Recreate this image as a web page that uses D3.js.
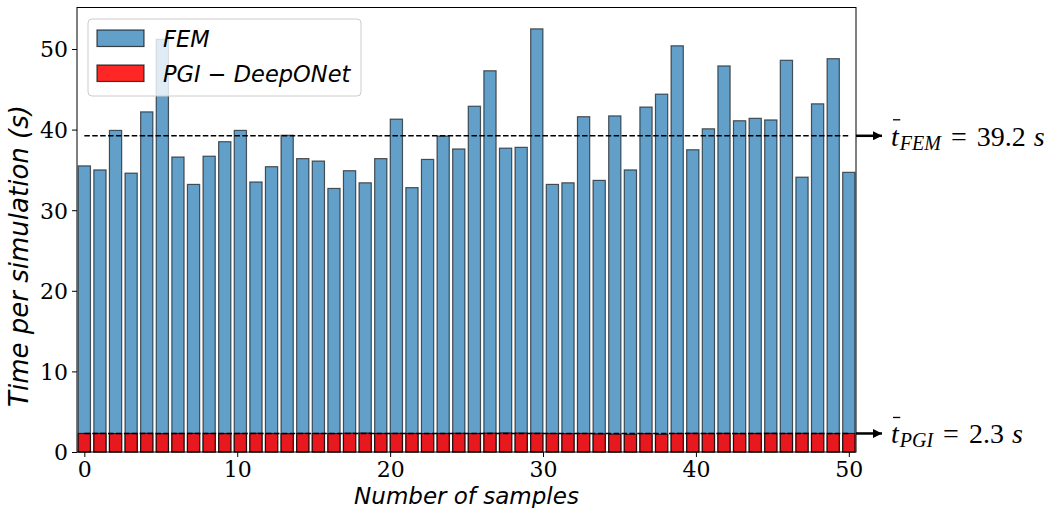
<!DOCTYPE html>
<html>
<head>
<meta charset="utf-8">
<script src="https://cdn.jsdelivr.net/npm/d3@7"></script>
<style>
  body { margin: 0; background: #fff; }
  svg { display: block; }
</style>
</head>
<body>
<div id="chart"></div>
<script>
// FEM run time for each of the 50 test samples (s)
const femTimes = [
  35.5, 35.0, 39.9, 34.6, 42.2, 51.2, 36.6, 33.2, 36.7, 38.5,
  39.9, 33.5, 35.4, 39.3, 36.4, 36.1, 32.7, 34.9, 33.4, 36.4,
  41.3, 32.8, 36.3, 39.2, 37.6, 42.9, 47.3, 37.7, 37.8, 52.5,
  33.2, 33.4, 41.6, 33.7, 41.7, 35.0, 42.8, 44.4, 50.4, 37.5,
  40.1, 47.9, 41.1, 41.4, 41.2, 48.6, 34.1, 43.2, 48.8, 34.7
];
// PGI-DeepONet inference time for the same samples (s)
const pgiTimes = [
  2.30, 2.31, 2.29, 2.30, 2.32, 2.28, 2.30, 2.31, 2.30, 2.29,
  2.30, 2.32, 2.30, 2.28, 2.31, 2.30, 2.29, 2.33, 2.35, 2.30,
  2.31, 2.30, 2.29, 2.30, 2.32, 2.30, 2.34, 2.36, 2.35, 2.33,
  2.30, 2.28, 2.30, 2.25, 2.22, 2.20, 2.28, 2.20, 2.30, 2.32,
  2.30, 2.31, 2.29, 2.30, 2.32, 2.30, 2.31, 2.30, 2.29, 2.30
];
const xTicks = [0, 10, 20, 30, 40, 50];
const yTicks = [0, 10, 20, 30, 40, 50];
const seriesNames = ['FEM', 'PGI \u2212 DeepONet'];
const meanSubs = ['FEM', 'PGI'];

const width = 1062, height = 508;
const margin = { top: 7.5, right: 206, bottom: 56, left: 77 };

// samples are laid out like np.linspace(0, 50, 50)
const nSamples = femTimes.length;
const samplePos = d3.range(nSamples).map(i => i * 50 / (nSamples - 1));

const x = d3.scaleLinear().domain([-0.48, 50.47]).range([margin.left, width - margin.right]);
const y = d3.scaleLinear().domain([0, 55.15]).range([height - margin.bottom, margin.top]);
const barW = x(0.8) - x(0);

const svg = d3.select('#chart').append('svg')
  .attr('width', width)
  .attr('height', height);

const plot = svg.append('g');

// FEM bars
plot.selectAll('.fem')
  .data(femTimes)
  .join('rect')
  .attr('class', 'fem')
  .attr('x', (d, i) => x(samplePos[i]) - barW / 2)
  .attr('width', barW)
  .attr('y', d => y(d))
  .attr('height', d => y(0) - y(d))
  .attr('fill', '#1f77b4')
  .attr('fill-opacity', 0.7)
  .attr('stroke', '#000')
  .attr('stroke-opacity', 0.62)
  .attr('stroke-width', 1.2);

// PGI bars drawn over them
plot.selectAll('.pgi')
  .data(pgiTimes)
  .join('rect')
  .attr('class', 'pgi')
  .attr('x', (d, i) => x(samplePos[i]) - barW / 2)
  .attr('width', barW)
  .attr('y', d => y(d))
  .attr('height', d => y(0) - y(d))
  .attr('fill', '#ff0000')
  .attr('fill-opacity', 0.85)
  .attr('stroke', '#000')
  .attr('stroke-opacity', 0.75)
  .attr('stroke-width', 1.2);

// mean lines
const means = [d3.mean(femTimes), d3.mean(pgiTimes)];
plot.selectAll('.mean-line')
  .data(means)
  .join('line')
  .attr('class', 'mean-line')
  .attr('x1', x(0))
  .attr('x2', x(50))
  .attr('y1', d => y(d))
  .attr('y2', d => y(d))
  .attr('stroke', '#000')
  .attr('stroke-width', 1.5)
  .attr('stroke-dasharray', '5.5,2.4');

// axes
const xAxis = svg.append('g')
  .attr('transform', `translate(0,${y(0)})`)
  .call(d3.axisBottom(x).tickValues(xTicks).tickSize(5).tickPadding(4));
const yAxis = svg.append('g')
  .attr('transform', `translate(${x.range()[0]},0)`)
  .call(d3.axisLeft(y).tickValues(yTicks).tickSize(5).tickPadding(4));
[xAxis, yAxis].forEach(a => {
  a.select('.domain').remove();
  a.selectAll('text')
    .attr('font-family', 'DejaVu Serif')
    .attr('font-size', 22)
    .attr('fill', '#000');
  a.selectAll('line').attr('stroke', '#000');
});
yAxis.selectAll('text').attr('dy', '0.36em');

// frame
svg.append('rect')
  .attr('x', x.range()[0])
  .attr('y', y.range()[1])
  .attr('width', x.range()[1] - x.range()[0])
  .attr('height', y.range()[0] - y.range()[1])
  .attr('fill', 'none')
  .attr('stroke', '#000')
  .attr('stroke-width', 1);

// axis titles
svg.append('text')
  .attr('x', (x.range()[0] + x.range()[1]) / 2)
  .attr('y', 504)
  .attr('text-anchor', 'middle')
  .attr('font-family', 'DejaVu Sans')
  .attr('font-style', 'italic')
  .attr('font-size', 23)
  .text('Number of samples');

svg.append('text')
  .attr('transform', 'translate(28,256) rotate(-90)')
  .attr('text-anchor', 'middle')
  .attr('font-family', 'DejaVu Sans')
  .attr('font-style', 'italic')
  .attr('font-size', 26)
  .text('Time per simulation (s)');

// legend
const legend = svg.append('g').attr('transform', 'translate(88,19)');
legend.append('rect')
  .attr('width', 273)
  .attr('height', 77)
  .attr('rx', 4)
  .attr('fill', '#fff')
  .attr('fill-opacity', 0.8)
  .attr('stroke', '#ccc')
  .attr('stroke-width', 1);
const legendItems = legend.selectAll('.legend-item')
  .data(seriesNames)
  .join('g')
  .attr('class', 'legend-item')
  .attr('transform', (d, i) => `translate(9,${11 + i * 35})`);
legendItems.append('rect')
  .attr('width', 47)
  .attr('height', 16.5)
  .attr('fill', (d, i) => i === 0 ? '#1f77b4' : '#ff0000')
  .attr('fill-opacity', (d, i) => i === 0 ? 0.7 : 0.85)
  .attr('stroke', '#000')
  .attr('stroke-opacity', 0.7)
  .attr('stroke-width', 1.2);
legendItems.append('text')
  .attr('x', 66)
  .attr('y', 16.5)
  .attr('font-family', 'DejaVu Sans')
  .attr('font-style', 'italic')
  .attr('font-size', 22.5)
  .text(d => d);

// mean annotations on the right
svg.append('defs').append('marker')
  .attr('id', 'arrow')
  .attr('viewBox', '0 0 10 10')
  .attr('refX', 10)
  .attr('refY', 5)
  .attr('markerWidth', 4.4)
  .attr('markerHeight', 3.6)
  .attr('markerUnits', 'strokeWidth')
  .attr('orient', 'auto')
  .append('path')
  .attr('d', 'M0,0L10,5L0,10z')
  .attr('fill', '#000');

const fmt = d3.format('.1f');
means.forEach((m, k) => {
  const yy = y(m);
  svg.append('line')
    .attr('x1', x.range()[1])
    .attr('x2', 882)
    .attr('y1', yy)
    .attr('y2', yy)
    .attr('stroke', '#000')
    .attr('stroke-width', 2.5)
    .attr('marker-end', 'url(#arrow)');

  const t = svg.append('text')
    .attr('x', 891)
    .attr('y', yy + 10)
    .attr('font-family', 'Liberation Serif')
    .attr('font-size', 28)
    .attr('fill', '#000');
  t.append('tspan').attr('font-style', 'italic').text('t');
  t.append('tspan').attr('font-style', 'italic').attr('font-size', 20).attr('dx', 1).attr('dy', 4).text(meanSubs[k]);
  t.append('tspan').attr('dx', 10).attr('dy', -4).text('=');
  t.append('tspan').attr('dx', 10).text(fmt(m));
  t.append('tspan').attr('dx', 8).attr('font-style', 'italic').text('s');

  // bar over the t
  const ext = t.node().getExtentOfChar(0);
  svg.append('line')
    .attr('x1', ext.x + 2)
    .attr('x2', ext.x + ext.width + 1.5)
    .attr('y1', yy - 16)
    .attr('y2', yy - 16)
    .attr('stroke', '#000')
    .attr('stroke-width', 1.3);
});
</script>
</body>
</html>
